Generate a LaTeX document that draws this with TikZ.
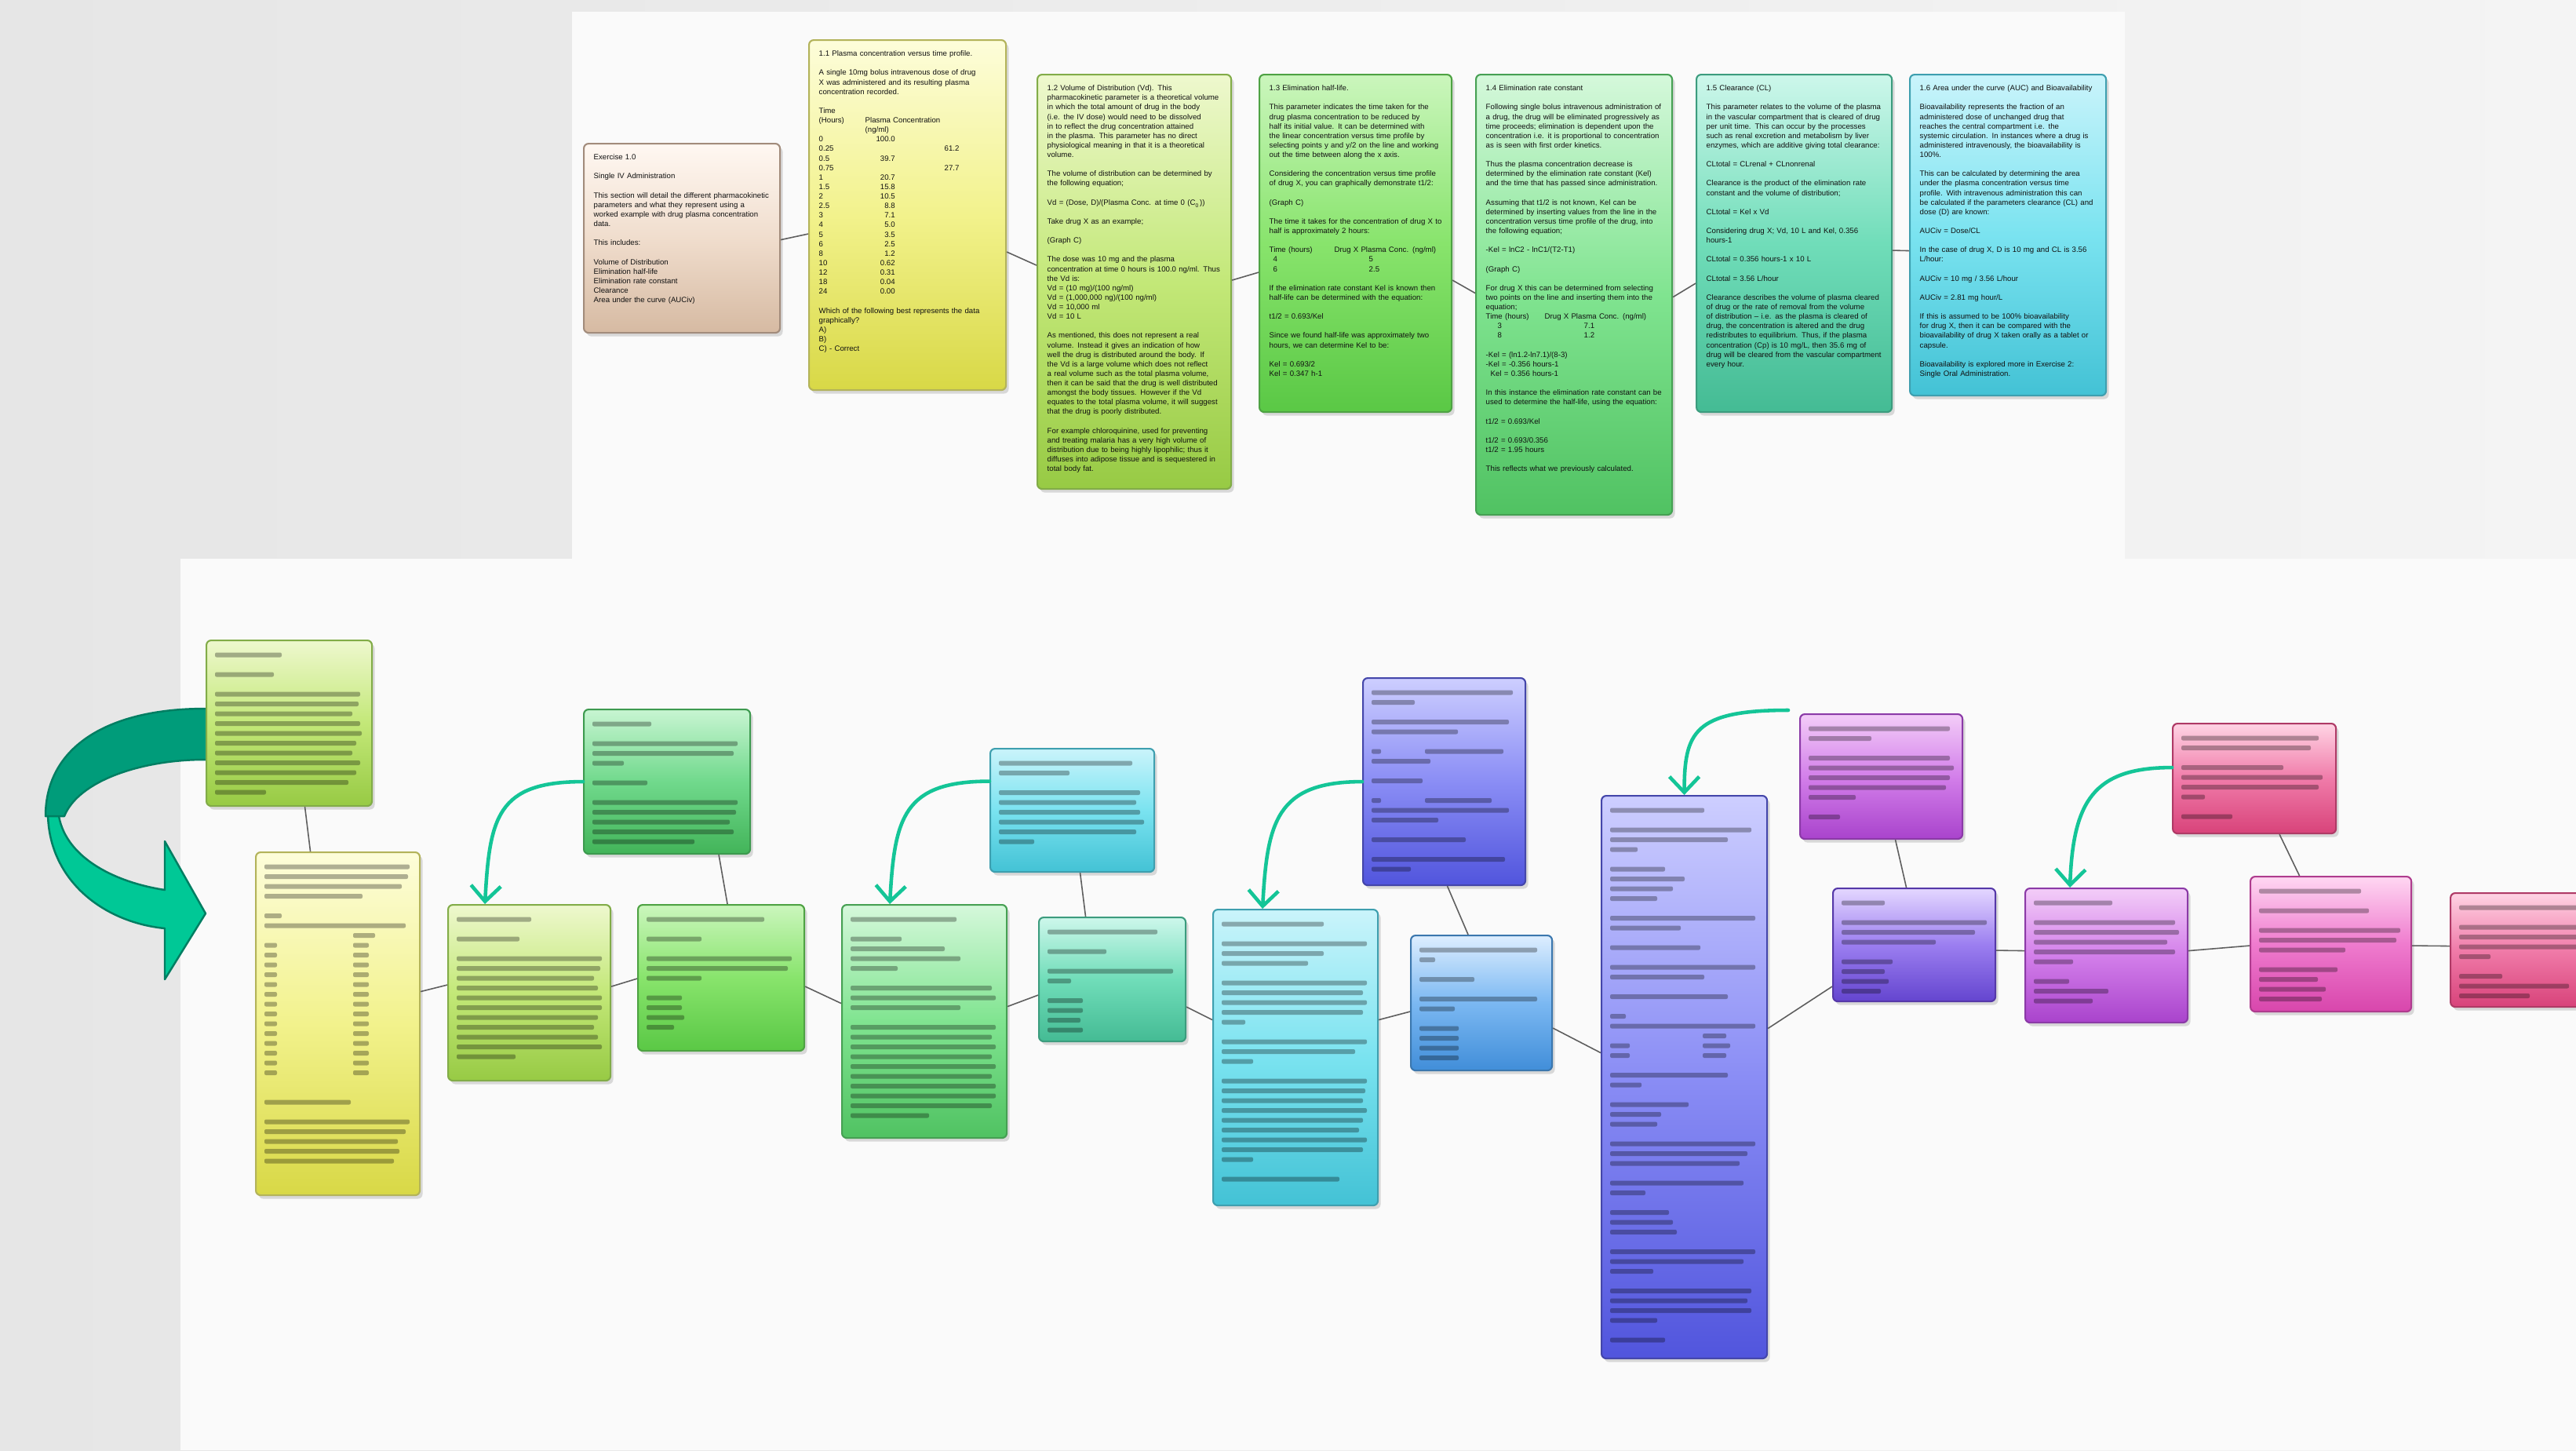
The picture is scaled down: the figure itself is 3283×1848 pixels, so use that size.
\documentclass[tikz,border=0pt]{standalone}
\usepackage{fontspec}
\setmainfont{Liberation Sans}
\usetikzlibrary{arrows.meta,calc,shadows}
\definecolor{bgL}{HTML}{E6E6E6}
\definecolor{bgR}{HTML}{F4F4F4}
\definecolor{sheet}{HTML}{FAFAFA}
\definecolor{ink}{HTML}{111111}
\definecolor{linkc}{HTML}{5E5E5E}
\definecolor{arrc}{HTML}{14C597}
\definecolor{ribdark}{HTML}{009C7A}
\definecolor{riblight}{HTML}{00C896}
\definecolor{ribedge}{HTML}{007E62}
% palettes: A top, B middle, C bottom, D border
\definecolor{pchA}{HTML}{FFF8F2}\definecolor{pchB}{HTML}{F0DDCD}\definecolor{pchC}{HTML}{D6BAA2}\definecolor{pchD}{HTML}{A28C7C}
\definecolor{yelA}{HTML}{FDFDDA}\definecolor{yelB}{HTML}{F2F28C}\definecolor{yelC}{HTML}{D8D846}\definecolor{yelD}{HTML}{B3B35A}
\definecolor{ygrA}{HTML}{EEF8CE}\definecolor{ygrB}{HTML}{C3E878}\definecolor{ygrC}{HTML}{97CA44}\definecolor{ygrD}{HTML}{82AC48}
\definecolor{grnA}{HTML}{CBF6BD}\definecolor{grnB}{HTML}{88E46C}\definecolor{grnC}{HTML}{5AC845}\definecolor{grnD}{HTML}{4EA243}
\definecolor{mgrA}{HTML}{D5F8DB}\definecolor{mgrB}{HTML}{80E490}\definecolor{mgrC}{HTML}{50C262}\definecolor{mgrD}{HTML}{46A053}
\definecolor{teaA}{HTML}{CDF7EB}\definecolor{teaB}{HTML}{70DDB9}\definecolor{teaC}{HTML}{44BB94}\definecolor{teaD}{HTML}{3C9C7E}
\definecolor{cyaA}{HTML}{CAF4FB}\definecolor{cyaB}{HTML}{7AE3F0}\definecolor{cyaC}{HTML}{43C2D5}\definecolor{cyaD}{HTML}{3E9FAF}
\definecolor{dgrA}{HTML}{C8F5D2}\definecolor{dgrB}{HTML}{70D98C}\definecolor{dgrC}{HTML}{42B459}\definecolor{dgrD}{HTML}{3D9A4F}
\definecolor{bluA}{HTML}{CDCEFF}\definecolor{bluB}{HTML}{8A8DF5}\definecolor{bluC}{HTML}{5155DD}\definecolor{bluD}{HTML}{4446AA}
\definecolor{skyA}{HTML}{DDEEFF}\definecolor{skyB}{HTML}{7BB8F2}\definecolor{skyC}{HTML}{418ED9}\definecolor{skyD}{HTML}{3B77AE}
\definecolor{magA}{HTML}{F3CDF8}\definecolor{magB}{HTML}{D37FEA}\definecolor{magC}{HTML}{A943CC}\definecolor{magD}{HTML}{8B3AA7}
\definecolor{vioA}{HTML}{E4D7FF}\definecolor{vioB}{HTML}{9B7EF0}\definecolor{vioC}{HTML}{6445CF}\definecolor{vioD}{HTML}{5538A8}
\definecolor{roseA}{HTML}{FFD4E4}\definecolor{roseB}{HTML}{F07BA9}\definecolor{roseC}{HTML}{D8437A}\definecolor{roseD}{HTML}{AF3A66}
\definecolor{pnkA}{HTML}{FFD7F2}\definecolor{pnkB}{HTML}{EF7BCE}\definecolor{pnkC}{HTML}{D846AC}\definecolor{pnkD}{HTML}{AF3C8E}
\tikzset{
  card/.style={anchor=north west,inner sep=0pt,rounded corners=.6mm,line width=.6pt,
    top color=#1A,bottom color=#1C,middle color=#1B,draw=#1D,
    drop shadow={shadow xshift=.35mm,shadow yshift=-.45mm,opacity=.28}},
  cardtxt/.style={anchor=north west,inner sep=0pt,align=left,text=ink,
    font=\fontsize{2.75pt}{3.45pt}\selectfont,
    execute at begin node={\setlength{\parskip}{3.45pt}\hyphenpenalty=10000\exhyphenpenalty=10000}},
  scribble/.style={fill=black,fill opacity=.3,rounded corners=.2mm},
  link/.style={draw=linkc,line width=.45pt},
  hintarr/.style={draw=arrc,line width=1.3pt,line cap=round,-{Straight Barb[length=2mm,width=3.8mm]}},
  ribtop/.style={fill=ribdark,draw=ribedge,line width=.7pt,line join=round},
  ribbot/.style={fill=riblight,draw=ribedge,line width=.7pt,line join=round},
}
% one blurred line of text in a card: box, row, x offset, width
\newcommand{\scrib}[4]{\fill[scribble] ($(#1.north west)+(#3,{4+#2*12.5})$) rectangle ++(#4,6);}
\newcommand{\scriblines}[3]{\foreach \w [count=\r from #2] in {#3} {\scrib{#1}{\r}{12}{\w}}}
\newcommand{\scribtab}[4]{\foreach \r in {#2,...,#3} {\scrib{#1}{\r}{12}{16}\scrib{#1}{\r}{#4}{20}}}
% row of the plasma table
\newcommand{\pkrow}[3]{\makebox[6.5mm][l]{#1}\makebox[3.2mm][r]{#2}\hspace{6.3mm}#3}
\begin{document}
\begin{tikzpicture}[x=0.1mm,y=-0.1mm]
  \useasboundingbox (0,0) rectangle (3283,1848);
  % backdrop and the two sheets
  \shade[left color=bgL,right color=bgR] (0,0) rectangle (3283,1848);
  \fill[sheet] (729,15) rectangle (2708,712);
  \fill[sheet] (230,712) rectangle (3283,1848);

  % turn-over arrow from the first worked answer
  \path[ribbot] (61,1035) .. controls (61,1120) and (130,1175) .. (210,1183) -- (210,1248) -- (262,1164)
    -- (210,1072) -- (210,1134) .. controls (150,1125) and (85,1095) .. (75,1040) -- cycle;
  \path[ribtop] (268,903) -- (261,903) .. controls (140,903) and (58,950) .. (58,1040) -- (82,1040)
    .. controls (100,995) and (180,968) .. (261,968) -- (268,968) -- cycle;

  % exercise 1 (top sheet)
  \node[card=pch,minimum width=25mm,minimum height=24.1mm] (b10) at (743,182) {};
  \node[card=yel,minimum width=25.1mm,minimum height=44.6mm] (b11) at (1030,50) {};
  \node[card=ygr,minimum width=24.7mm,minimum height=52.8mm] (b12) at (1321,94) {};
  \node[card=grn,minimum width=24.5mm,minimum height=43mm] (b13) at (1604,94) {};
  \node[card=mgr,minimum width=25mm,minimum height=56.1mm] (b14) at (1880,94) {};
  \node[card=tea,minimum width=24.9mm,minimum height=43mm] (b15) at (2161,94) {};
  \node[card=cya,minimum width=25mm,minimum height=40.9mm] (b16) at (2433,94) {};
  \draw[link] ($(b10.east)+(0,2)$) -- ($(b11.west)+(0,24)$);
  \draw[link] ($(b11.east)+(0,47)$) -- ($(b12.west)+(0,-21)$);
  \draw[link] ($(b12.east)+(0,-2)$) -- ($(b13.west)+(0,37)$);
  \draw[link] ($(b13.east)+(0,47)$) -- ($(b14.west)+(0,-2)$);
  \draw[link] ($(b14.east)+(0,3)$) -- ($(b15.west)+(0,51)$);
  \draw[link] ($(b15.east)+(0,9)$) -- ($(b16.west)+(0,20)$);

  \node[cardtxt,text width=22.4mm] (b10t) at ($(b10.north west)+(13,14)$) {Exercise 1.0

    Single IV Administration

    This section will detail the different pharmacokinetic parameters and what they represent using a worked example with drug plasma concentration data.

    This includes:

    Volume of Distribution\\
    Elimination half-life\\
    Elimination rate constant\\
    Clearance\\
    Area under the curve (AUCiv)};
  \node[cardtxt,text width=22.5mm] (b11t) at ($(b11.north west)+(13,14)$) {1.1 Plasma concentration versus time profile.

    A single 10mg bolus intravenous dose of drug X was administered and its resulting plasma concentration recorded.

    Time\\
    \makebox[5.9mm][l]{(Hours)}Plasma Concentration\\
    \hspace*{5.9mm}(ng/ml)\\
    \pkrow{0}{100.0}{}\\
    \pkrow{0.25}{}{61.2}\\
    \pkrow{0.5}{39.7}{}\\
    \pkrow{0.75}{}{27.7}\\
    \pkrow{1}{20.7}{}\\
    \pkrow{1.5}{15.8}{}\\
    \pkrow{2}{10.5}{}\\
    \pkrow{2.5}{8.8}{}\\
    \pkrow{3}{7.1}{}\\
    \pkrow{4}{5.0}{}\\
    \pkrow{5}{3.5}{}\\
    \pkrow{6}{2.5}{}\\
    \pkrow{8}{1.2}{}\\
    \pkrow{10}{0.62}{}\\
    \pkrow{12}{0.31}{}\\
    \pkrow{18}{0.04}{}\\
    \pkrow{24}{0.00}{}

    Which of the following best represents the data graphically?\\
    A)\\
    B)\\
    C) - Correct};
  \node[cardtxt,text width=22.2mm] (b12t) at ($(b12.north west)+(13,14)$) {1.2 Volume of Distribution (Vd). This pharmacokinetic parameter is a theoretical volume in which the total amount of drug in the body (i.e. the IV dose) would need to be dissolved in to reflect the drug concentration attained in the plasma. This parameter has no direct physiological meaning in that it is a theoretical volume.

    The volume of distribution can be determined by the following equation;

    Vd = (Dose, D)/(Plasma Conc. at time 0 (C\textsubscript{0}))

    Take drug X as an example;

    (Graph C)

    The dose was 10 mg and the plasma concentration at time 0 hours is 100.0 ng/ml. Thus the Vd is:\\
    Vd = (10 mg)/(100 ng/ml)\\
    Vd = (1,000,000 ng)/(100 ng/ml)\\
    Vd = 10,000 ml\\
    Vd = 10 L

    As mentioned, this does not represent a real volume. Instead it gives an indication of how well the drug is distributed around the body. If the Vd is a large volume which does not reflect a real volume such as the total plasma volume, then it can be said that the drug is well distributed amongst the body tissues. However if the Vd equates to the total plasma volume, it will suggest that the drug is poorly distributed.

    For example chloroquinine, used for preventing and treating malaria has a very high volume of distribution due to being highly lipophilic; thus it diffuses into adipose tissue and is sequestered in total body fat.};
  \node[cardtxt,text width=22mm] (b13t) at ($(b13.north west)+(13,14)$) {1.3 Elimination half-life.

    This parameter indicates the time taken for the drug plasma concentration to be reduced by half its initial value. It can be determined with the linear concentration versus time profile by selecting points y and y/2 on the line and working out the time between along the x axis.

    Considering the concentration versus time profile of drug X, you can graphically demonstrate t1/2:

    (Graph C)

    The time it takes for the concentration of drug X to half is approximately 2 hours:

    \makebox[8.3mm][l]{Time (hours)}Drug X Plasma Conc. (ng/ml)\\
    \hspace*{.5mm}\makebox[12.2mm][l]{4}5\\
    \hspace*{.5mm}\makebox[12.2mm][l]{6}2.5

    If the elimination rate constant Kel is known then half-life can be determined with the equation:

    t1/2 = 0.693/Kel

    Since we found half-life was approximately two hours, we can determine Kel to be:

    Kel = 0.693/2\\
    Kel = 0.347 h-1};
  \node[cardtxt,text width=22.5mm] (b14t) at ($(b14.north west)+(13,14)$) {1.4 Elimination rate constant

    Following single bolus intravenous administration of a drug, the drug will be eliminated progressively as time proceeds; elimination is dependent upon the concentration i.e. it is proportional to concentration as is seen with first order kinetics.

    Thus the plasma concentration decrease is determined by the elimination rate constant (Kel) and the time that has passed since administration.

    Assuming that t1/2 is not known, Kel can be determined by inserting values from the line in the concentration versus time profile of the drug, into the following equation;

    -Kel = lnC2 - lnC1/(T2-T1)

    (Graph C)

    For drug X this can be determined from selecting two points on the line and inserting them into the equation;\\
    \makebox[7.5mm][l]{Time (hours)}Drug X Plasma Conc. (ng/ml)\\
    \hspace*{1.5mm}\makebox[11mm][l]{3}7.1\\
    \hspace*{1.5mm}\makebox[11mm][l]{8}1.2

    -Kel = (ln1.2-ln7.1)/(8-3)\\
    -Kel = -0.356 hours-1\\
    \hspace*{.6mm}Kel = 0.356 hours-1

    In this instance the elimination rate constant can be used to determine the half-life, using the equation:

    t1/2 = 0.693/Kel

    t1/2 = 0.693/0.356\\
    t1/2 = 1.95 hours

    This reflects what we previously calculated.};
  \node[cardtxt,text width=22.4mm] (b15t) at ($(b15.north west)+(13,14)$) {1.5 Clearance (CL)

    This parameter relates to the volume of the plasma in the vascular compartment that is cleared of drug per unit time. This can occur by the processes such as renal excretion and metabolism by liver enzymes, which are additive giving total clearance:

    CLtotal = CLrenal + CLnonrenal

    Clearance is the product of the elimination rate constant and the volume of distribution;

    CLtotal = Kel x Vd

    Considering drug X; Vd, 10 L and Kel, 0.356 hours-1

    CLtotal = 0.356 hours-1 x 10 L

    CLtotal = 3.56 L/hour

    Clearance describes the volume of plasma cleared of drug or the rate of removal from the volume of distribution -- i.e. as the plasma is cleared of drug, the concentration is altered and the drug redistributes to equilibrium. Thus, if the plasma concentration (Cp) is 10 mg/L, then 35.6 mg of drug will be cleared from the vascular compartment every hour.};
  \node[cardtxt,text width=22.5mm] (b16t) at ($(b16.north west)+(13,14)$) {1.6 Area under the curve (AUC) and Bioavailability

    Bioavailability represents the fraction of an administered dose of unchanged drug that reaches the central compartment i.e. the systemic circulation. In instances where a drug is administered intravenously, the bioavailability is 100\%.

    This can be calculated by determining the area under the plasma concentration versus time profile. With intravenous administration this can be calculated if the parameters clearance (CL) and dose (D) are known:

    AUCiv = Dose/CL

    In the case of drug X, D is 10 mg and CL is 3.56 L/hour:

    AUCiv = 10 mg / 3.56 L/hour

    AUCiv = 2.81 mg hour/L

    If this is assumed to be 100\% bioavailability for drug X, then it can be compared with the bioavailability of drug X taken orally as a tablet or capsule.

    Bioavailability is explored more in Exercise 2: Single Oral Administration.};

  % worked answers (bottom sheet): chain and hints
  \node[card=ygr,minimum width=21.1mm,minimum height=21.1mm] (h1) at (262,815) {};
  \node[card=yel,minimum width=20.9mm,minimum height=43.7mm] (c1) at (325,1085) {};
  \node[card=ygr,minimum width=20.7mm,minimum height=22.4mm] (c2) at (570,1152) {};
  \node[card=dgr,minimum width=21.2mm,minimum height=18.4mm] (h2) at (743,903) {};
  \node[card=grn,minimum width=21.2mm,minimum height=18.6mm] (c3) at (812,1152) {};
  \node[card=mgr,minimum width=21mm,minimum height=29.7mm] (c4) at (1072,1152) {};
  \node[card=cya,minimum width=20.9mm,minimum height=15.7mm] (h3) at (1261,953) {};
  \node[card=tea,minimum width=18.7mm,minimum height=15.8mm] (c5) at (1323,1168) {};
  \node[card=cya,minimum width=21mm,minimum height=37.7mm] (c6) at (1545,1158) {};
  \node[card=blu,minimum width=20.7mm,minimum height=26.4mm] (h4) at (1736,863) {};
  \node[card=sky,minimum width=18mm,minimum height=17.2mm] (c7) at (1797,1191) {};
  \node[card=blu,minimum width=21.1mm,minimum height=71.7mm] (c8) at (2040,1013) {};
  \node[card=mag,minimum width=20.7mm,minimum height=15.9mm] (h5) at (2293,909) {};
  \node[card=vio,minimum width=20.7mm,minimum height=14.4mm] (c9) at (2335,1131) {};
  \node[card=mag,minimum width=20.7mm,minimum height=17.1mm] (c10) at (2580,1131) {};
  \node[card=rose,minimum width=20.8mm,minimum height=14mm] (h6) at (2768,921) {};
  \node[card=pnk,minimum width=20.5mm,minimum height=17.2mm] (c11) at (2867,1116) {};
  \node[card=rose,minimum width=21mm,minimum height=14.5mm] (c12) at (3122,1137) {};

  \draw[link] ($(c1.east)+(0,-41)$) -- ($(c2.west)+(0,-10)$);
  \draw[link] ($(c2.east)+(0,-8)$) -- ($(c3.west)+(0,1)$);
  \draw[link] ($(c3.east)+(0,11)$) -- ($(c4.west)+(0,-23)$);
  \draw[link] ($(c4.east)+(0,-19)$) -- ($(c5.west)+(0,20)$);
  \draw[link] ($(c5.east)+(0,35)$) -- ($(c6.west)+(0,-48)$);
  \draw[link] ($(c6.east)+(0,-48)$) -- ($(c7.west)+(0,11)$);
  \draw[link] ($(c7.east)+(0,32)$) -- ($(c8.west)+(0,-31)$);
  \draw[link] ($(c8.east)+(0,-62)$) -- ($(c9.west)+(0,53)$);
  \draw[link] ($(c9.east)+(0,7)$) -- ($(c10.west)+(0,-6)$);
  \draw[link] ($(c10.east)+(0,-6)$) -- ($(c11.west)+(0,2)$);
  \draw[link] ($(c11.east)+(0,2)$) -- ($(c12.west)+(0,-5)$);
  \draw[link] ($(h1.south)+(20,0)$) -- ($(c1.north)+(-35,0)$);
  \draw[link] ($(h2.south)+(66,0)$) -- ($(c3.north)+(8,0)$);
  \draw[link] ($(h3.south)+(10,0)$) -- ($(c5.north)+(-34,0)$);
  \draw[link] ($(h4.south)+(4,0)$) -- ($(c7.north)+(-17,0)$);
  \draw[link] ($(h5.south)+(18,0)$) -- ($(c9.north)+(-10,0)$);
  \draw[link] ($(h6.south)+(32,0)$) -- ($(c11.north)+(-40,0)$);

  % blurred text of the worked answers
  \scriblines{h1}{1}{85}\scriblines{h1}{3}{75}
  \scriblines{h1}{5}{185,183,175,185,187,180,175,185,180,170,65}
  \scriblines{c1}{1}{185,183,175,125}\scriblines{c1}{6}{22,180}\scrib{c1}{8}{125}{28}
  \scribtab{c1}{9}{22}{125}\scriblines{c1}{25}{110}\scriblines{c1}{27}{185,180,170,172,165}
  \scriblines{c2}{1}{95}\scriblines{c2}{3}{80}
  \scriblines{c2}{5}{185,183,175,180,185,185,180,175,180,185,75}
  \scriblines{h2}{1}{75}\scriblines{h2}{3}{185,180,40}\scriblines{h2}{7}{70}
  \scriblines{h2}{9}{185,183,175,180,130}
  \scriblines{c3}{1}{150}\scriblines{c3}{3}{70}\scriblines{c3}{5}{185,180,70}\scriblines{c3}{9}{45,45,48,35}
  \scriblines{c4}{1}{135}\scriblines{c4}{3}{65,120,140,60}\scriblines{c4}{8}{180,185,140}
  \scriblines{c4}{12}{185,180,185,180,185,180,185,185,180,100}
  \scriblines{h3}{1}{170,90}\scriblines{h3}{4}{180,175,180,185,175,45}
  \scriblines{c5}{1}{140}\scriblines{c5}{3}{75}\scriblines{c5}{5}{160,30}\scriblines{c5}{8}{45,45,42,45}
  \scriblines{c6}{1}{130}\scriblines{c6}{3}{185,130,110}\scriblines{c6}{7}{185,180,185,180,30}
  \scriblines{c6}{13}{185,170,40}\scriblines{c6}{17}{185,183,180,185,180,175,185,180,40}\scriblines{c6}{27}{150}
  \scriblines{h4}{1}{180,55}\scriblines{h4}{4}{175,110}\scrib{h4}{7}{12}{12}\scrib{h4}{7}{80}{100}
  \scriblines{h4}{8}{75}\scriblines{h4}{10}{65}\scrib{h4}{12}{12}{12}\scrib{h4}{12}{80}{85}
  \scriblines{h4}{13}{175,85}\scriblines{h4}{16}{120}\scriblines{h4}{18}{170,50}
  \scriblines{c7}{1}{150,20}\scriblines{c7}{4}{70}\scriblines{c7}{6}{150,45}\scriblines{c7}{9}{50,50,50,50}
  \scriblines{c8}{1}{120}\scriblines{c8}{3}{180,150,35}\scriblines{c8}{7}{70,95,80,60}
  \scriblines{c8}{12}{185,90}\scriblines{c8}{15}{115}\scriblines{c8}{17}{185,120}\scriblines{c8}{20}{150}
  \scriblines{c8}{22}{20,185}\scrib{c8}{24}{130}{30}\scriblines{c8}{25}{25,25}
  \scrib{c8}{25}{130}{35}\scrib{c8}{26}{130}{30}
  \scriblines{c8}{28}{150,40}\scriblines{c8}{31}{100,65,60}\scriblines{c8}{35}{185,175,165}
  \scriblines{c8}{39}{170,45}\scriblines{c8}{42}{75,80,85}\scriblines{c8}{46}{185,170,55}
  \scriblines{c8}{50}{180,175,180,60}\scriblines{c8}{55}{70}
  \scriblines{h5}{1}{180,80}\scriblines{h5}{4}{180,185,180,175,60}\scriblines{h5}{10}{40}
  \scriblines{c9}{1}{55}\scriblines{c9}{3}{185,170,120}\scriblines{c9}{7}{65,55,60,50}
  \scriblines{c10}{1}{100}\scriblines{c10}{3}{180,185,170,180,50}\scriblines{c10}{9}{45,95,75}
  \scriblines{h6}{1}{175,165}\scriblines{h6}{4}{130,180,175,30}\scriblines{h6}{9}{65}
  \scriblines{c11}{1}{130}\scriblines{c11}{3}{140}\scriblines{c11}{5}{180,175,110}\scriblines{c11}{9}{100,75,85,80}
  \scriblines{c12}{1}{200}\scriblines{c12}{3}{185,190,190,40}\scriblines{c12}{8}{55,140,90}

  % hint arrows
  \draw[hintarr] (h2.west) .. controls +(-110,0) and +(6,-110) .. ($(c2.north west)+(48,0)$);
  \draw[hintarr] ($(h3.west)+(0,-37)$) .. controls +(-110,0) and +(6,-110) .. ($(c4.north west)+(62,0)$);
  \draw[hintarr] (h4.west) .. controls +(-110,0) and +(6,-110) .. ($(c6.north west)+(64,0)$);
  \draw[hintarr] ($(h5.north west)+(-14,-4)$) .. controls +(-120,0) and +(0,-80) .. (c8.north);
  \draw[hintarr] ($(h6.west)+(0,-14)$) .. controls +(-100,0) and +(4,-110) .. ($(c10.north west)+(58,0)$);
\end{tikzpicture}
\end{document}
